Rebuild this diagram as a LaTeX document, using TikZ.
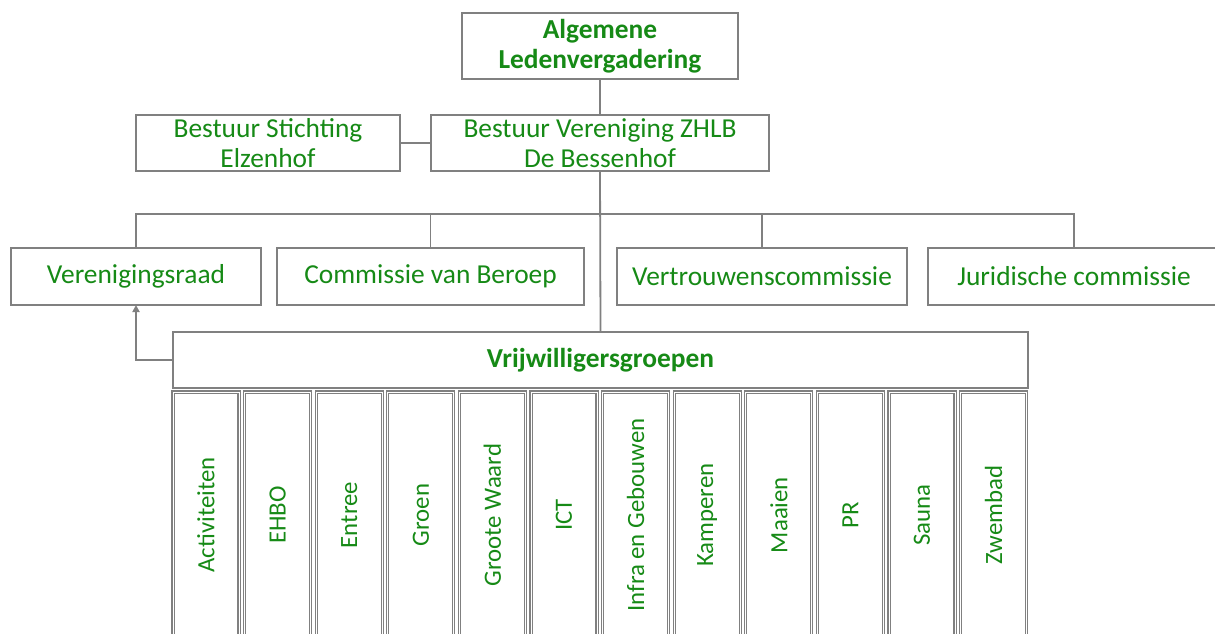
\documentclass[tikz,border=0pt]{standalone}
\usepackage{fontspec}
\setmainfont{Carlito}
\usetikzlibrary{arrows.meta}
\definecolor{txtgreen}{RGB}{22,138,22}
\definecolor{linegray}{RGB}{128,128,128}
\tikzset{
  box/.style={draw=linegray, line width=1.8pt, fill=white, inner sep=0pt, outer sep=0pt,
    text=txtgreen, font=\fontsize{27.4}{29.5}\selectfont, align=center},
  boldbox/.style={box, font=\fontsize{27.4}{29.5}\selectfont\bfseries},
  colbox/.style={draw=linegray, line width=1.1pt, double=white, double distance=0.9pt,
    fill=white, inner sep=0pt, outer sep=0pt, minimum width=66pt, minimum height=250pt},
  coltext/.style={text=txtgreen, font=\fontsize{24.8}{30}\selectfont, rotate=90, inner sep=0pt},
  conn/.style={draw=linegray, line width=1.8pt}
}
\begin{document}
\begin{tikzpicture}[x=1pt,y=-1pt]
\useasboundingbox (0,0) rectangle (1215,634);
\clip (0,0) rectangle (1215,634);
% connectors first (under boxes)
\coordinate (barL) at (136,214);
\coordinate (barR) at (1074,214);
% top
\node[boldbox, minimum width=276pt, minimum height=66pt] (alv) at (600,46) {Algemene\\Ledenvergadering};
\node[box, minimum width=338pt, minimum height=56pt] (bv) at (600,143) {Bestuur Vereniging ZHLB\\De Bessenhof};
\node[box, minimum width=264pt, minimum height=56pt] (bs) at (268,143) {Bestuur Stichting\\Elzenhof};
% commissions
\node[box, minimum width=250pt, minimum height=57pt] (vr) at (136,276.5) {Verenigingsraad};
\node[box, minimum width=307pt, minimum height=57pt] (cb) at (430.5,276.5) {Commissie van Beroep};
\node[box, minimum width=290pt, minimum height=57pt] (vc) at (762,276.5) {Vertrouwenscommissie};
\node[box, minimum width=292pt, minimum height=57pt] (jc) at (1074,276.5) {Juridische commissie};
% volunteers
\node[boldbox, minimum width=855pt, minimum height=56pt] (vg) at (600.5,360) {Vrijwilligersgroepen};
% connectors
\draw[conn] (alv.south) -- (bv.north);
\draw[conn] (bs.east) -- (bv.west);
\draw[conn] (bv.south) -- (vg.north);
\draw[conn] (vr.north) -- (barL) -- (barR) -- (jc.north);
\draw[conn] (cb.north) -- (cb.north |- barL);
\draw[conn] (vc.north) -- (vc.north |- barL);
\draw[conn, -{Triangle[length=7pt,width=7pt]}] (vg.west) -| (vr.south);
% columns
\foreach \i/\name/\lab in {0/c1/Activiteiten,1/c2/EHBO,2/c3/Entree,3/c4/Groen,4/c5/Groote Waard,5/c6/ICT,6/c7/Infra en Gebouwen,7/c8/Kamperen,8/c9/Maaien,9/c10/PR,10/c11/Sauna,11/c12/Zwembad}{
  \node[colbox, anchor=north] (\name) at ({206+\i*71.6},392) {};
  \node[coltext] (\name t) at ({206+\i*71.6},515) {\lab};
}
\end{tikzpicture}
\end{document}
